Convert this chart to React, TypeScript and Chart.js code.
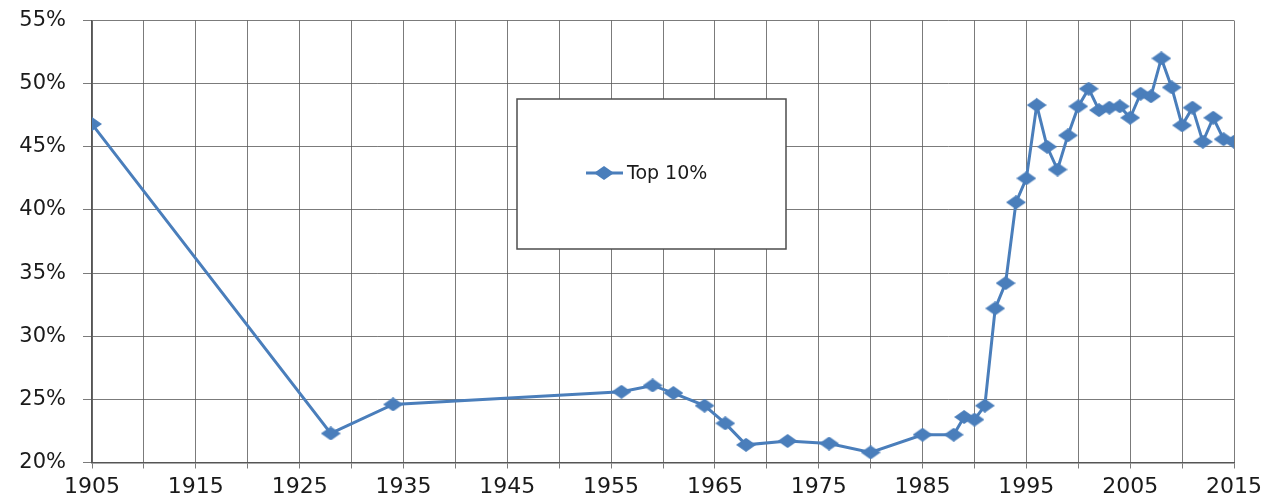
import React, { useEffect, useRef } from "react";
import { Chart, registerables } from "chart.js";

Chart.register(...registerables);

const years: number[] = [
  1905, 1928, 1934, 1956, 1959, 1961, 1964, 1966, 1968, 1972, 1976, 1980,
  1985, 1988, 1989, 1990, 1991, 1992, 1993, 1994, 1995, 1996, 1997, 1998,
  1999, 2000, 2001, 2002, 2003, 2004, 2005, 2006, 2007, 2008, 2009, 2010,
  2011, 2012, 2013, 2014, 2015,
];
const top10: number[] = [
  46.8, 22.3, 24.6, 25.6, 26.1, 25.5, 24.5, 23.1, 21.4, 21.7, 21.5, 20.8,
  22.2, 22.2, 23.6, 23.4, 24.5, 32.2, 34.2, 40.6, 42.5, 48.3, 45.0, 43.2,
  45.9, 48.2, 49.6, 47.9, 48.1, 48.2, 47.3, 49.2, 49.0, 52.0, 49.7, 46.7,
  48.1, 45.4, 47.3, 45.6, 45.4,
];
const seriesLabel = "Top 10%";
const xLabelYears: number[] = [1905, 1915, 1925, 1935, 1945, 1955, 1965, 1975, 1985, 1995, 2005, 2015];
const yTicks: number[] = [20, 25, 30, 35, 40, 45, 50, 55];

const BLUE = "#4A7EBB";
const FONT = "'DejaVu Sans', sans-serif";

function makeDiamond(w: number, h: number): HTMLCanvasElement {
  const c = document.createElement("canvas");
  c.width = w;
  c.height = h;
  const ctx = c.getContext("2d")!;
  ctx.fillStyle = BLUE;
  ctx.beginPath();
  ctx.moveTo(w / 2, 0);
  ctx.lineTo(w, h / 2);
  ctx.lineTo(w / 2, h);
  ctx.lineTo(0, h / 2);
  ctx.closePath();
  ctx.fill();
  return c;
}

export default function App() {
  const ref = useRef<HTMLCanvasElement | null>(null);

  useEffect(() => {
    if (!ref.current) return;
    const diamond = makeDiamond(20, 14);

    const legendBox = {
      id: "legendBox",
      beforeDatasetsDraw(chart: any) {
        const ctx = chart.ctx;
        ctx.save();
        const x0 = 517, y0 = 99, x1 = 786, y1 = 249;
        ctx.fillStyle = "#ffffff";
        ctx.fillRect(x0, y0, x1 - x0, y1 - y0);
        ctx.strokeStyle = "#4d4d4d";
        ctx.lineWidth = 1.5;
        ctx.strokeRect(x0, y0, x1 - x0, y1 - y0);
        const ly = 173;
        ctx.strokeStyle = BLUE;
        ctx.lineWidth = 3;
        ctx.beginPath();
        ctx.moveTo(586, ly);
        ctx.lineTo(623, ly);
        ctx.stroke();
        ctx.drawImage(diamond, 604 - 10, ly - 7);
        ctx.fillStyle = "#1a1a1a";
        ctx.font = `19px ${FONT}`;
        ctx.textAlign = "left";
        ctx.textBaseline = "middle";
        ctx.fillText(seriesLabel, 627, ly + 1);
        ctx.restore();
      },
    };

    const chart = new Chart(ref.current, {
      type: "line",
      data: {
        datasets: [
          {
            label: seriesLabel,
            data: years.map((y, i) => ({ x: y, y: top10[i] })),
            borderColor: BLUE,
            backgroundColor: BLUE,
            borderWidth: 3,
            pointStyle: diamond as any,
            pointRadius: 7,
            tension: 0,
          },
        ],
      },
      options: {
        animation: false,
        responsive: false,
        maintainAspectRatio: false,
        layout: { padding: { top: 20.5, right: 34, left: 0, bottom: 0 } },
        plugins: {
          legend: { display: false },
          tooltip: { enabled: false },
          title: { display: false },
        },
        scales: {
          x: {
            type: "linear",
            min: 1905,
            max: 2015,
            afterFit: (s: any) => {
              s.height = 36.5;
              s.paddingLeft = 0;
              s.paddingRight = 0;
            },
            ticks: {
              stepSize: 5,
              autoSkip: false,
              maxRotation: 0,
              padding: 6,
              color: "#1a1a1a",
              font: { family: FONT, size: 22 },
              callback: (v: any) => (xLabelYears.includes(Number(v)) ? String(v) : ""),
            },
            grid: {
              color: "rgba(90,90,90,0.8)",
              lineWidth: 1,
              tickLength: 6,
            },
            border: { color: "#555", width: 1.5 },
          },
          y: {
            min: 20,
            max: 55,
            afterFit: (s: any) => {
              s.width = 92;
              s.paddingTop = 0;
              s.paddingBottom = 0;
            },
            afterBuildTicks: (s: any) => {
              s.ticks = yTicks.map((v) => ({ value: v }));
            },
            ticks: {
              padding: 17,
              color: "#1a1a1a",
              font: { family: FONT, size: 21 },
              callback: (v: any) => `${v}%`,
            },
            grid: {
              color: "rgba(90,90,90,0.8)",
              lineWidth: 1,
              tickLength: 9,
            },
            border: { color: "#555", width: 1.5 },
          },
        },
      },
      plugins: [legendBox],
    });
    return () => chart.destroy();
  }, []);

  return (
    <div style={{ position: "absolute", left: 0, top: 0, width: 1268, height: 499, background: "#fff" }}>
      <canvas ref={ref} width={1268} height={499} style={{ display: "block", width: 1268, height: 499 }} />
    </div>
  );
}
